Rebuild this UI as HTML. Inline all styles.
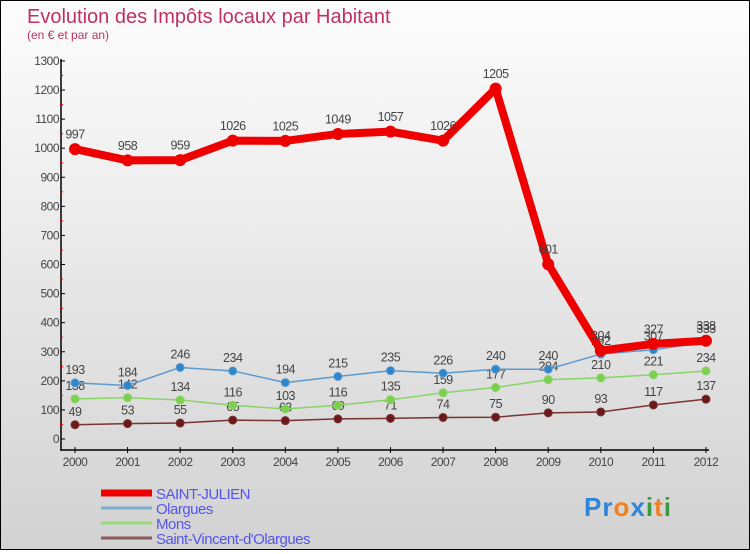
<!DOCTYPE html>
<html><head><meta charset="utf-8"><style>
html,body{margin:0;padding:0}
body{width:750px;height:550px;overflow:hidden;font-family:"Liberation Sans",sans-serif}
#wrap{position:relative;width:748px;height:548px;border:1px solid #000;background:linear-gradient(#fdfdfd,#d2d2d2)}
</style></head><body>
<div id="wrap">
<svg id="chart" width="748" height="548"></svg>
</div>
<script>
const years=["2000","2001","2002","2003","2004","2005","2006","2007","2008","2009","2010","2011","2012"];
const stJulien=[997,958,959,1026,1025,1049,1057,1026,1205,601,304,327,338];
const olargues=[193,184,246,234,194,215,235,226,240,240,292,307,333];
const mons=[138,142,134,116,103,116,135,159,177,204,210,221,234];
const stVincent=[49,53,55,65,63,69,71,74,75,90,93,117,137];
const yTicks=[0,100,200,300,400,500,600,700,800,900,1000,1100,1200,1300];
const NS="http://www.w3.org/2000/svg";
const svg=document.getElementById('chart');
const X=i=>74+i*52.58, Y=v=>438-v*0.2908;
function mk(t,a,p){const e=document.createElementNS(NS,t);for(const k in a)e.setAttribute(k,a[k]);(p||svg).appendChild(e);return e;}
let t=mk('text',{x:26,y:22,'font-size':20,fill:'#c0315e'});t.textContent='Evolution des Impôts locaux par Habitant';

t=mk('text',{x:26,y:38,'font-size':12,fill:'#c0315e'});t.textContent='(en € et par an)';

let ax=mk('line',{x1:60,y1:58,x2:60,y2:450,stroke:'#000','stroke-width':1.5});

ax=mk('line',{x1:60,y1:449,x2:708,y2:449,stroke:'#000','stroke-width':1.5});

yTicks.forEach(v=>{mk('line',{x1:60,y1:Y(v),x2:64,y2:Y(v),stroke:'#000'});
 if(v<1300)mk('line',{x1:59,y1:Y(v+50),x2:62,y2:Y(v+50),stroke:'#e00'});
 const l=mk('text',{x:58,y:Y(v)+4,'font-size':12,'text-anchor':'end',fill:'#444','letter-spacing':'-0.5'});l.textContent=v;
 });
years.forEach((y,i)=>{mk('line',{x1:X(i),y1:446,x2:X(i),y2:452,stroke:'#000'});
 const l=mk('text',{x:X(i),y:465,'font-size':12,'text-anchor':'middle',fill:'#444','letter-spacing':'-0.5'});l.textContent=y;
 });
function series(d,color,w,r,name,dot){
 const g=mk('g',{});
 mk('polyline',{points:d.map((v,i)=>X(i)+','+Y(v)).join(' '),fill:'none',stroke:color,'stroke-width':w,'stroke-linejoin':'round'},g);
 d.forEach((v,i)=>{const c=mk('circle',{cx:X(i),cy:Y(v),r:r,fill:dot,stroke:color,'stroke-width':1},g);
  
  const l=mk('text',{x:X(i),y:Y(v)-(r+5),'font-size':12.5,'text-anchor':'middle',fill:'#444','letter-spacing':'-0.5'},g);l.textContent=v;
  });
}
series(stVincent,'#7a3232',1.5,4,'saint-vincent','#6b1a1a');
series(mons,'#88d468',1.5,4,'mons','#7ccf4f');
series(olargues,'#5a9ad0',1.5,4,'olargues','#2f86c8');
series(stJulien,'#ee0000',8,5.5,'saint-julien','#ee0000');
const leg=[['SAINT-JULIEN','#ee0000',7],['Olargues','#7aaed2',3],['Mons','#9ad97a',3],['Saint-Vincent-d\'Olargues','#8c5a5a',3]];
leg.forEach((e,i)=>{const y=492+i*15;const g=mk('g',{});
 mk('line',{x1:100,y1:y,x2:151,y2:y,stroke:e[1],'stroke-width':e[2]},g);
 const l=mk('text',{x:155,y:y+6,'font-size':15,fill:'#5555ee','letter-spacing':'-0.5'},g);l.textContent=e[0];});
const lg=mk('text',{x:583,y:515,'font-size':26,'font-weight':'bold','letter-spacing':'1'});

[['Pr','#2f86d8'],['o','#f08020'],['x','#2f86d8'],['i','#3a9a40'],['t','#f08020'],['i','#3a9a40']].forEach(p=>{const s=mk('tspan',{fill:p[1]},lg);s.textContent=p[0];});
</script>
</body></html>
